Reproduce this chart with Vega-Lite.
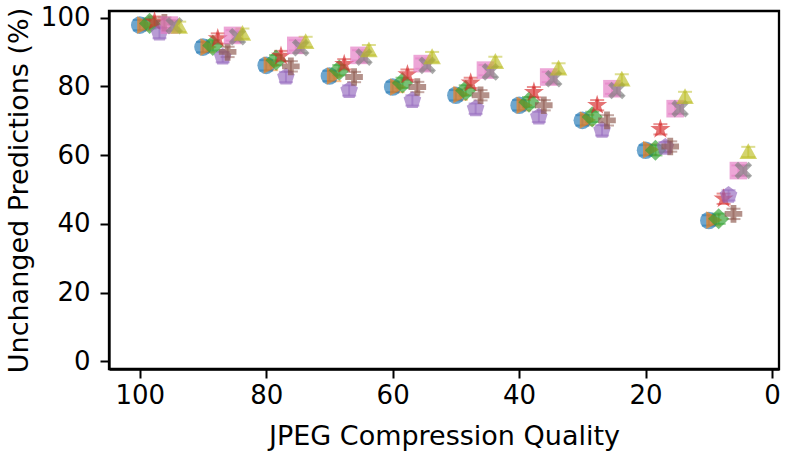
{
  "$schema": "https://vega.github.io/schema/vega-lite/v6.json",
  "width": 670,
  "height": 358,
  "autosize": "none",
  "padding": {"left": 109, "top": 11, "right": 10, "bottom": 85},
  "background": "white",
  "config": {
    "font": "DejaVu Sans",
    "view": {"stroke": "black", "strokeWidth": 2.3},
    "axis": {
      "grid": false,
      "domainColor": "black",
      "domainWidth": 2.3,
      "tickColor": "black",
      "tickWidth": 2,
      "tickSize": 9,
      "labelFont": "DejaVu Sans",
      "labelFontSize": 26,
      "labelColor": "black",
      "titleFont": "DejaVu Sans",
      "titleFontSize": 27,
      "titleFontWeight": "normal",
      "titleColor": "black"
    }
  },
  "data": {
    "values": [
      {"s": "A", "q": 100, "x": 100, "y": 97.8, "e": 1.5},
      {"s": "A", "q": 90, "x": 90, "y": 91.4, "e": 1.5},
      {"s": "A", "q": 80, "x": 80, "y": 86.1, "e": 1.5},
      {"s": "A", "q": 70, "x": 70, "y": 83.0, "e": 1.5},
      {"s": "A", "q": 60, "x": 60, "y": 79.8, "e": 1.5},
      {"s": "A", "q": 50, "x": 50, "y": 77.4, "e": 1.5},
      {"s": "A", "q": 40, "x": 40, "y": 74.5, "e": 1.5},
      {"s": "A", "q": 30, "x": 30, "y": 70.1, "e": 1.5},
      {"s": "A", "q": 20, "x": 20, "y": 61.4, "e": 1.5},
      {"s": "A", "q": 10, "x": 10, "y": 41.0, "e": 1.5},
      {"s": "B", "q": 100, "x": 99.22, "y": 97.8, "e": 1.5},
      {"s": "B", "q": 90, "x": 89.22, "y": 91.4, "e": 1.5},
      {"s": "B", "q": 80, "x": 79.22, "y": 86.2, "e": 1.5},
      {"s": "B", "q": 70, "x": 69.22, "y": 83.0, "e": 1.5},
      {"s": "B", "q": 60, "x": 59.22, "y": 79.8, "e": 1.5},
      {"s": "B", "q": 50, "x": 49.22, "y": 77.6, "e": 1.5},
      {"s": "B", "q": 40, "x": 39.22, "y": 74.5, "e": 1.5},
      {"s": "B", "q": 30, "x": 29.22, "y": 70.2, "e": 1.5},
      {"s": "B", "q": 20, "x": 19.22, "y": 61.6, "e": 1.5},
      {"s": "B", "q": 10, "x": 9.22, "y": 41.1, "e": 1.5},
      {"s": "C", "q": 100, "x": 98.44, "y": 98.3, "e": 1.5},
      {"s": "C", "q": 90, "x": 88.44, "y": 91.9, "e": 1.5},
      {"s": "C", "q": 80, "x": 78.44, "y": 87.6, "e": 1.5},
      {"s": "C", "q": 70, "x": 68.44, "y": 84.7, "e": 1.5},
      {"s": "C", "q": 60, "x": 58.44, "y": 81.0, "e": 1.5},
      {"s": "C", "q": 50, "x": 48.44, "y": 78.8, "e": 1.5},
      {"s": "C", "q": 40, "x": 38.44, "y": 75.4, "e": 1.5},
      {"s": "C", "q": 30, "x": 28.44, "y": 71.1, "e": 1.5},
      {"s": "C", "q": 20, "x": 18.44, "y": 61.4, "e": 1.5},
      {"s": "C", "q": 10, "x": 8.44, "y": 41.5, "e": 1.5},
      {"s": "D", "q": 100, "x": 97.66, "y": 98.8, "e": 1.5},
      {"s": "D", "q": 90, "x": 87.66, "y": 93.9, "e": 1.5},
      {"s": "D", "q": 80, "x": 77.66, "y": 88.8, "e": 1.5},
      {"s": "D", "q": 70, "x": 67.66, "y": 86.4, "e": 1.5},
      {"s": "D", "q": 60, "x": 57.66, "y": 83.4, "e": 1.5},
      {"s": "D", "q": 50, "x": 47.66, "y": 81.0, "e": 1.5},
      {"s": "D", "q": 40, "x": 37.66, "y": 78.3, "e": 1.5},
      {"s": "D", "q": 30, "x": 27.66, "y": 74.5, "e": 1.5},
      {"s": "D", "q": 20, "x": 17.66, "y": 67.5, "e": 1.5},
      {"s": "D", "q": 10, "x": 7.66, "y": 47.3, "e": 1.5},
      {"s": "E", "q": 100, "x": 96.88, "y": 95.5, "e": 1.5},
      {"s": "E", "q": 90, "x": 86.88, "y": 88.5, "e": 1.5},
      {"s": "E", "q": 80, "x": 76.88, "y": 82.7, "e": 1.5},
      {"s": "E", "q": 70, "x": 66.88, "y": 78.8, "e": 1.5},
      {"s": "E", "q": 60, "x": 56.88, "y": 75.9, "e": 1.5},
      {"s": "E", "q": 50, "x": 46.88, "y": 73.5, "e": 1.5},
      {"s": "E", "q": 40, "x": 36.88, "y": 71.1, "e": 1.5},
      {"s": "E", "q": 30, "x": 26.88, "y": 67.2, "e": 1.5},
      {"s": "E", "q": 20, "x": 16.88, "y": 62.3, "e": 1.5},
      {"s": "E", "q": 10, "x": 6.88, "y": 48.3, "e": 1.5},
      {"s": "F", "q": 100, "x": 96.1, "y": 98.5, "e": 1.5},
      {"s": "F", "q": 90, "x": 86.1, "y": 90.0, "e": 1.5},
      {"s": "F", "q": 80, "x": 76.1, "y": 85.8, "e": 1.5},
      {"s": "F", "q": 70, "x": 66.1, "y": 82.7, "e": 1.5},
      {"s": "F", "q": 60, "x": 56.1, "y": 79.8, "e": 1.5},
      {"s": "F", "q": 50, "x": 46.1, "y": 77.4, "e": 1.5},
      {"s": "F", "q": 40, "x": 36.1, "y": 74.5, "e": 1.5},
      {"s": "F", "q": 30, "x": 26.1, "y": 70.1, "e": 1.5},
      {"s": "F", "q": 20, "x": 16.1, "y": 62.5, "e": 1.5},
      {"s": "F", "q": 10, "x": 6.1, "y": 42.9, "e": 1.5},
      {"s": "G", "q": 100, "x": 95.32, "y": 97.8, "e": 1.5},
      {"s": "G", "q": 90, "x": 85.32, "y": 94.8, "e": 1.5},
      {"s": "G", "q": 80, "x": 75.32, "y": 91.9, "e": 1.5},
      {"s": "G", "q": 70, "x": 65.32, "y": 89.0, "e": 1.5},
      {"s": "G", "q": 60, "x": 55.32, "y": 86.6, "e": 1.5},
      {"s": "G", "q": 50, "x": 45.32, "y": 84.7, "e": 1.5},
      {"s": "G", "q": 40, "x": 35.32, "y": 82.7, "e": 1.5},
      {"s": "G", "q": 30, "x": 25.32, "y": 79.3, "e": 1.5},
      {"s": "G", "q": 20, "x": 15.32, "y": 73.5, "e": 1.5},
      {"s": "G", "q": 10, "x": 5.32, "y": 55.5, "e": 1.5},
      {"s": "H", "q": 100, "x": 94.54, "y": 97.6, "e": 1.5},
      {"s": "H", "q": 90, "x": 84.54, "y": 94.4, "e": 1.5},
      {"s": "H", "q": 80, "x": 74.54, "y": 91.2, "e": 1.5},
      {"s": "H", "q": 70, "x": 64.54, "y": 88.5, "e": 1.5},
      {"s": "H", "q": 60, "x": 54.54, "y": 86.1, "e": 1.5},
      {"s": "H", "q": 50, "x": 44.54, "y": 84.2, "e": 1.5},
      {"s": "H", "q": 40, "x": 34.54, "y": 82.2, "e": 1.5},
      {"s": "H", "q": 30, "x": 24.54, "y": 78.8, "e": 1.5},
      {"s": "H", "q": 20, "x": 14.54, "y": 73.5, "e": 1.5},
      {"s": "H", "q": 10, "x": 4.54, "y": 55.5, "e": 1.5},
      {"s": "I", "q": 100, "x": 93.76, "y": 97.3, "e": 1.5},
      {"s": "I", "q": 90, "x": 83.76, "y": 95.3, "e": 1.5},
      {"s": "I", "q": 80, "x": 73.76, "y": 92.9, "e": 1.5},
      {"s": "I", "q": 70, "x": 63.76, "y": 90.5, "e": 1.5},
      {"s": "I", "q": 60, "x": 53.76, "y": 88.5, "e": 1.5},
      {"s": "I", "q": 50, "x": 43.76, "y": 87.1, "e": 1.5},
      {"s": "I", "q": 40, "x": 33.76, "y": 85.2, "e": 1.5},
      {"s": "I", "q": 30, "x": 23.76, "y": 82.0, "e": 1.5},
      {"s": "I", "q": 20, "x": 13.76, "y": 76.9, "e": 1.5},
      {"s": "I", "q": 10, "x": 3.76, "y": 60.9, "e": 1.5}
    ]
  },
  "encoding": {
    "x": {
      "field": "x",
      "type": "quantitative",
      "title": "JPEG Compression Quality",
      "scale": {"domain": [-1.1, 104.86], "reverse": true, "nice": false, "zero": false},
      "axis": {"values": [0, 20, 40, 60, 80, 100], "labelPadding": 4, "titlePadding": 15}
    },
    "color": {
      "field": "s",
      "type": "nominal",
      "legend": null,
      "scale": {
        "domain": ["A", "B", "C", "D", "E", "F", "G", "H", "I"],
        "range": ["#1f77b4", "#ff7f0e", "#2ca02c", "#d62728", "#9467bd", "#8c564b", "#e377c2", "#7f7f7f", "#bcbd22"]
      }
    }
  },
  "layer": [
    {
      "mark": {
        "type": "errorbar",
        "ticks": {"size": 14, "thickness": 2, "opacity": 0.5},
        "rule": {"strokeWidth": 2, "opacity": 0.5}
      },
      "encoding": {
        "y": {
          "field": "y",
          "type": "quantitative",
          "title": "Unchanged Predictions (%)",
          "scale": {"domain": [-2.2, 101.9], "nice": false, "zero": false},
          "axis": {"values": [0, 20, 40, 60, 80, 100], "labelPadding": 10, "titlePadding": 7}
        },
        "yError": {"field": "e"}
      }
    },
    {
      "mark": {"type": "point", "filled": true, "opacity": 0.65, "size": 310, "strokeWidth": 0},
      "encoding": {
        "y": {"field": "y", "type": "quantitative"},
        "shape": {
          "field": "s",
          "type": "nominal",
          "legend": null,
          "scale": {
            "domain": ["A", "B", "C", "D", "E", "F", "G", "H", "I"],
            "range": [
              "circle",
              "M-0.85,-1L1,0L-0.85,1Z",
              "M0,-1.2L1.2,0L0,1.2L-1.2,0Z",
              "M0,-1.2L0.269,-0.371L1.141,-0.371L0.436,0.142L0.706,0.971L0,0.458L-0.706,0.971L-0.436,0.142L-1.141,-0.371L-0.269,-0.371Z",
              "M0,-1.05L1,-0.325L0.618,0.85L-0.618,0.85L-1,-0.325Z",
              "M-0.33,-1L0.33,-1L0.33,-0.33L1,-0.33L1,0.33L0.33,0.33L0.33,1L-0.33,1L-0.33,0.33L-1,0.33L-1,-0.33L-0.33,-0.33Z",
              "square",
              "M-1,-0.6L-0.6,-1L0,-0.4L0.6,-1L1,-0.6L0.4,0L1,0.6L0.6,1L0,0.4L-0.6,1L-1,0.6L-0.4,0Z",
              "M0,-1L1,0.8L-1,0.8Z"
            ]
          }
        }
      }
    }
  ]
}
